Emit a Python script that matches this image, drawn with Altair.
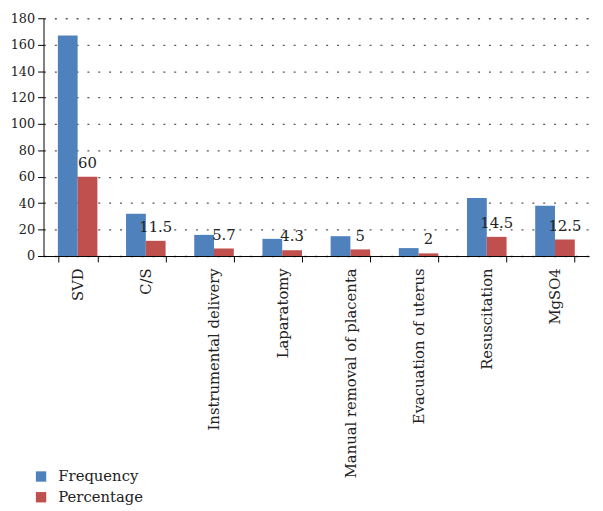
import altair as alt
import pandas as pd

categories = ["SVD", "C/S", "Instrumental delivery", "Laparatomy",
              "Manual removal of placenta", "Evacuation of uterus",
              "Resuscitation", "MgSO4"]
frequency = [167, 32, 16, 13, 15, 6, 44, 38]
percentage = [60, 11.5, 5.7, 4.3, 5, 2, 14.5, 12.5]
series_names = ["Frequency", "Percentage"]
series_colors = ["#4F81BD", "#C0504D"]
y_ticks = [0, 20, 40, 60, 80, 100, 120, 140, 160, 180]

rows = []
for c, f, p in zip(categories, frequency, percentage):
    rows.append({"category": c, "series": "Frequency", "value": f, "label": ""})
    rows.append({"category": c, "series": "Percentage", "value": p, "label": f"{p:g}"})
df = pd.DataFrame(rows)

FONT = "DejaVu Serif"

x_enc = alt.X("category:N", sort=categories, title=None,
              scale=alt.Scale(paddingInner=0.42, paddingOuter=0.21),
              axis=alt.Axis(labelAngle=270, labelAlign="right", labelBaseline="middle",
                            labelFontSize=15, labelFont=FONT, labelColor="#222",
                            labelPadding=6, tickBand="extent", tickSize=6,
                            domainColor="#000", tickColor="#000", labelLimit=400,
                            grid=False))
y_enc = alt.Y("value:Q", title=None,
              scale=alt.Scale(domain=[0, 180], nice=False),
              axis=alt.Axis(values=y_ticks, labelFontSize=13, labelFont=FONT,
                            labelColor="#222", tickSize=6, tickColor="#000",
                            domainColor="#000", grid=True, gridColor="#555",
                            gridDash=[2, 9], gridWidth=1.3, labelPadding=3,
                            labelOverlap=False))
xoff = alt.XOffset("series:N", scale=alt.Scale(domain=series_names))

bars = alt.Chart(df).mark_bar().encode(
    x=x_enc, y=y_enc, xOffset=xoff,
    color=alt.Color("series:N", scale=alt.Scale(domain=series_names, range=series_colors),
                    title=None,
                    legend=alt.Legend(orient="none", legendX=-10, legendY=457,
                                      direction="vertical", symbolType="square",
                                      symbolSize=110, symbolStrokeWidth=0,
                                      labelFont=FONT, labelFontSize=15,
                                      labelColor="#222", rowPadding=5,
                                      labelOffset=10)),
)

labels = alt.Chart(df).transform_filter(alt.datum.series == "Percentage").mark_text(
    baseline="alphabetic", dy=-9, font=FONT, fontSize=15, color="#222"
).encode(x=x_enc, y=y_enc, xOffset=xoff, text="label:N")

chart = alt.layer(bars, labels).properties(
    width=553, height=241,
    autosize=alt.AutoSizeParams(type="none"),
    padding={"left": 36, "top": 7, "right": 6, "bottom": 250},
).configure_view(stroke=None)

chart.save("out.html", embed_options={"renderer": "svg", "actions": False})
